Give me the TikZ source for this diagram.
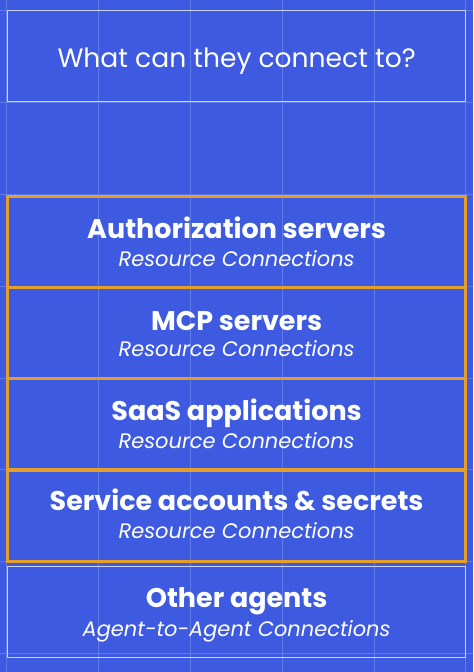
\documentclass[tikz,border=0pt]{standalone}
\usepackage{fontspec}
\setmainfont{Poppins}
\usetikzlibrary{positioning}

\definecolor{bgblue}{RGB}{61,90,224}
\definecolor{boxorange}{RGB}{230,158,42}
\definecolor{gridline}{RGB}{96,122,234}

\tikzset{
  obox/.style={draw=boxorange, line width=3pt, minimum width=458pt, minimum height=91pt, inner sep=0pt},
  wbox/.style={draw=white!75!bgblue, line width=1.2pt, minimum width=458pt, minimum height=91pt, inner sep=0pt},
  headtext/.style={text=white, anchor=base, inner sep=0pt, font=\fontsize{27}{31}\selectfont\bfseries},
  subtext/.style={text=white, anchor=base, inner sep=0pt, font=\fontsize{21}{25}\selectfont\itshape},
  titletext/.style={text=white, anchor=base, inner sep=0pt, font=\fontsize{26.6}{30}\selectfont}
}

\begin{document}
\begin{tikzpicture}[x=1pt, y=-1pt]
  \fill[bgblue] (0,0) rectangle (473,672);
  % faint grid
  \foreach \gx in {6,98,190,282,374,466}
    \draw[gridline, line width=0.8pt] (\gx,0) -- (\gx,672);
  \foreach \gy in {10,102,194,286,378,470,562,654}
    \draw[gridline, line width=0.8pt] (0,\gy) -- (473,\gy);

  % title
  \node[wbox] (title) at (236.5,56) {};
  \node[titletext] (titlelabel) at ([yshift=-57pt]title.north) {What can they connect to?};

  % resource connections
  \node[obox] (auth) at (236.5,241.5) {};
  \node[obox] (mcp) at (236.5,333) {};
  \node[obox] (saas) at (236.5,424.5) {};
  \node[obox] (svc) at (236.5,516) {};
  \node[wbox] (agents) at (236.5,612) {};

  \node[headtext] (authhead) at ([yshift=-44pt]auth.north) {Authorization servers};
  \node[subtext] (authsub) at ([yshift=-72pt]auth.north) {Resource Connections};
  \node[headtext] (mcphead) at ([yshift=-44pt]mcp.north) {MCP servers};
  \node[subtext] (mcpsub) at ([yshift=-71pt]mcp.north) {Resource Connections};
  \node[headtext] (saashead) at ([yshift=-43pt]saas.north) {SaaS applications};
  \node[subtext] (saassub) at ([yshift=-71pt]saas.north) {Resource Connections};
  \node[headtext] (svchead) at ([yshift=-42pt]svc.north) {Service accounts \& secrets};
  \node[subtext] (svcsub) at ([yshift=-70pt]svc.north) {Resource Connections};
  \node[headtext] (agentshead) at ([yshift=-42pt]agents.north) {Other agents};
  \node[subtext] (agentssub) at ([yshift=-71pt]agents.north) {Agent-to-Agent Connections};
\end{tikzpicture}
\end{document}
